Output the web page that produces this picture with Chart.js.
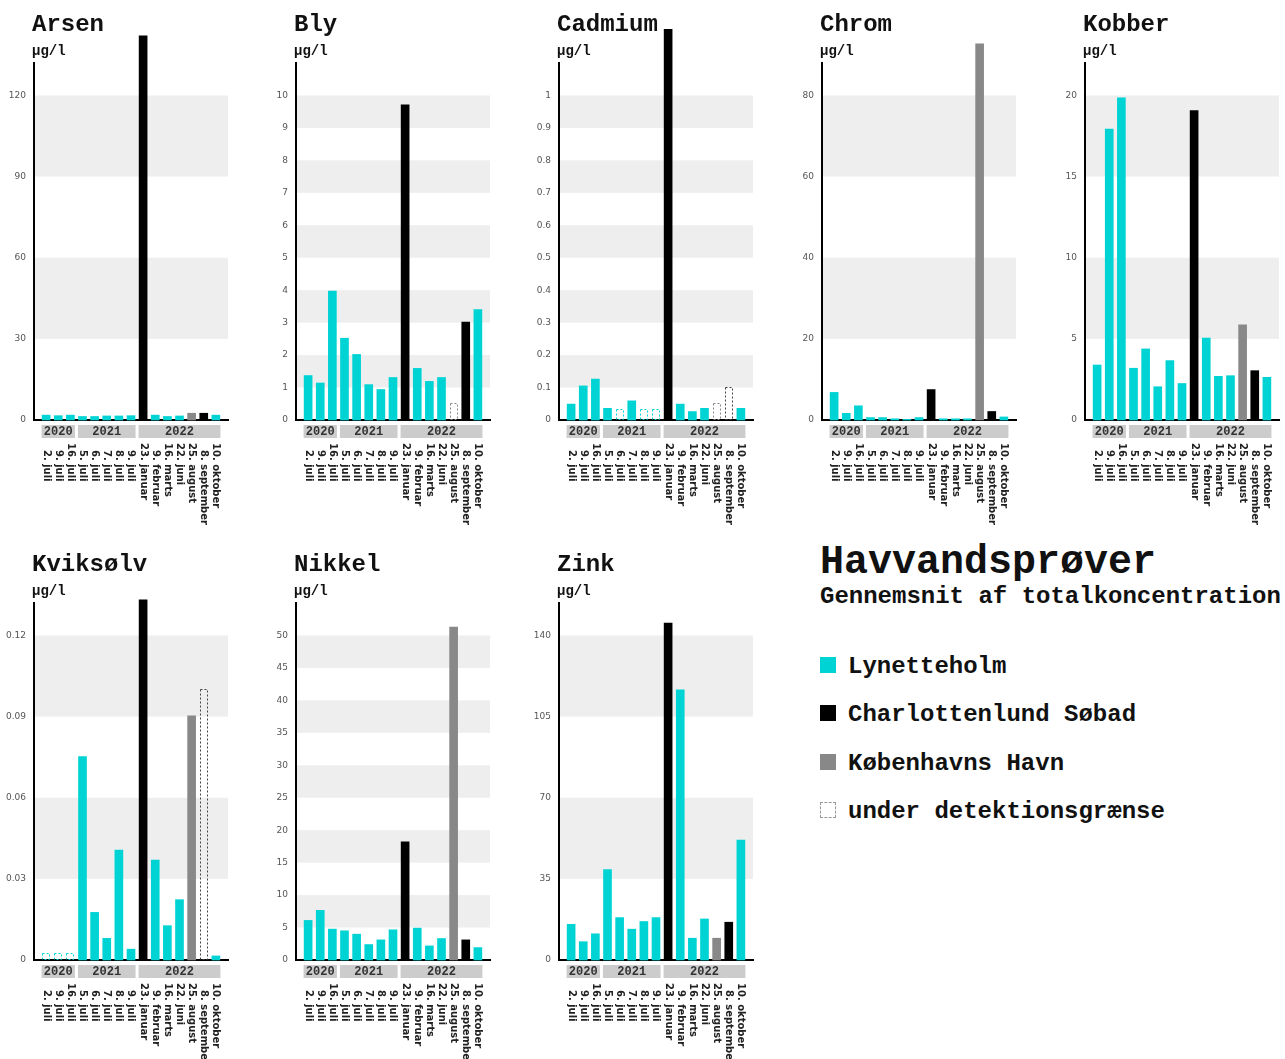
<!DOCTYPE html>
<html>
<head>
<meta charset="utf-8">
<script src="https://cdn.jsdelivr.net/npm/chart.js@4.4.1/dist/chart.umd.min.js"></script>
<style>
  body { margin: 0; background: #fff; width: 1285px; height: 1059px; overflow: hidden; position: relative; }
  canvas { position: absolute; }
  .mono { position: absolute; font-family: "Liberation Mono", "DejaVu Sans Mono", monospace; font-weight: bold; color: #111; white-space: nowrap; }
  .sq { position: absolute; left: 820px; width: 16px; height: 16px; box-sizing: border-box; }
</style>
</head>
<body>

<div class="mono" style="left:820px; top:540px; font-size:40px; line-height:46px;">Havvandsprøver</div>
<div class="mono" style="left:820px; top:583px; font-size:24px; line-height:28px;">Gennemsnit af totalkoncentration</div>

<div class="sq" style="top:657px; background:#00d3d3;"></div>
<div class="mono" style="left:848px; top:653px; font-size:24px; line-height:28px;">Lynetteholm</div>
<div class="sq" style="top:705px; background:#000;"></div>
<div class="mono" style="left:848px; top:701px; font-size:24px; line-height:28px;">Charlottenlund Søbad</div>
<div class="sq" style="top:754px; background:#888;"></div>
<div class="mono" style="left:848px; top:750px; font-size:24px; line-height:28px;">Københavns Havn</div>
<div class="sq" style="top:802px; border:1px dashed #999;"></div>
<div class="mono" style="left:848px; top:798px; font-size:24px; line-height:28px;">under detektionsgrænse</div>

<script>
// ─── DATA ─────────────────────────────────────────────────────────────────────
const dates = ['2. juli', '9. juli', '16. juli', '5. juli', '6. juli', '7. juli', '8. juli', '9. juli',
               '23. januar', '9. februar', '16. marts', '22. juni', '25. august', '8. september', '10. oktober'];
const years = ['2020', '2021', '2022'];
const yearOfDate = [0, 0, 0, 1, 1, 1, 1, 1, 2, 2, 2, 2, 2, 2, 2];
// L = Lynetteholm, C = Charlottenlund Søbad, K = Københavns Havn
const siteOfDate = ['L', 'L', 'L', 'L', 'L', 'L', 'L', 'L', 'C', 'L', 'L', 'L', 'K', 'C', 'L'];

const arsen     = [1.8, 1.6, 1.8, 1.3, 1.3, 1.5, 1.5, 1.6, 142, 1.8, 1.3, 1.5, 2.5, 2.5, 1.8];
const bly       = [1.37, 1.14, 3.97, 2.52, 2.02, 1.09, 0.94, 1.31, 9.71, 1.59, 1.19, 1.31, 0.52, 3.02, 3.40];
const cadmium   = [0.049, 0.105, 0.126, 0.036, 0.033, 0.059, 0.033, 0.033, 1.204, 0.049, 0.026, 0.036, 0.052, 0.102, 0.036];
const chrom     = [6.8, 1.65, 3.5, 0.6, 0.6, 0.3, 0.15, 0.6, 7.5, 0.3, 0.3, 0.3, 92.7, 2.1, 0.75];
const kobber    = [3.39, 17.93, 19.86, 3.19, 4.38, 2.05, 3.66, 2.25, 19.07, 5.05, 2.69, 2.73, 5.87, 3.04, 2.63];
const kviksoelv = [0.0025, 0.0025, 0.0025, 0.0752, 0.0176, 0.008, 0.0406, 0.004, 0.1332, 0.0369, 0.0127, 0.0223, 0.0903, 0.1002, 0.0015];
const nikkel    = [6.1, 7.65, 4.76, 4.5, 3.98, 2.38, 3.1, 4.65, 18.2, 4.91, 2.17, 3.31, 51.3, 3.1, 1.91];
const zink      = [15.4, 7.9, 11.3, 39.0, 18.3, 13.3, 16.6, 18.3, 145.3, 116.5, 9.4, 17.7, 9.4, 16.3, 51.7];

// indexes under detektionsgrænse
const blyBelow       = [12];
const cadmiumBelow   = [4, 6, 7, 12, 13];
const kviksoelvBelow = [0, 1, 2, 13];

const metalNames = ['Arsen', 'Bly', 'Cadmium', 'Chrom', 'Kobber', 'Kviksølv', 'Nikkel', 'Zink'];
const metalValues = [arsen, bly, cadmium, chrom, kobber, kviksoelv, nikkel, zink];
const metalBelow = [[], blyBelow, cadmiumBelow, [], [], kviksoelvBelow, [], []];
const tickStep = [30, 1, 0.1, 20, 5, 0.03, 5, 35];
const tickTop  = [120, 10, 1, 80, 20, 0.12, 50, 140];

// ─── STYLE ────────────────────────────────────────────────────────────────────
const SITE_COLOR = { L: '#00d3d3', C: '#000000', K: '#888888' };
const BAND = '#eeeeee';
const MONO = '"Liberation Mono", "DejaVu Sans Mono", monospace';
const PANEL_W = 262, PANEL_X = [0, 262, 525, 788, 1051];

// ─── PLUGIN: bands, dotted bars, titles, year boxes, date labels ─────────────
const panelPlugin = {
    id: 'panel',
    beforeDraw(chart) {
        const { ctx, chartArea: a, scales: { y } } = chart;
        const t = y.ticks;
        ctx.save();
        ctx.fillStyle = BAND;
        for (let i = 1; i + 1 < t.length; i += 2) {
            const y0 = y.getPixelForValue(t[i].value);
            const y1 = y.getPixelForValue(t[i + 1].value);
            ctx.fillRect(a.left, y1, a.right - a.left, y0 - y1);
        }
        ctx.restore();
    },
    afterDatasetsDraw(chart, args, opts) {
        const { ctx } = chart;
        const meta = chart.getDatasetMeta(0);
        ctx.save();
        ctx.lineWidth = 1;
        ctx.setLineDash([2, 2]);
        opts.below.forEach(i => {
            const b = meta.data[i].getProps(['x', 'y', 'base', 'width'], true);
            ctx.strokeStyle = siteOfDate[i] === 'C' ? '#444' : SITE_COLOR[siteOfDate[i]];
            ctx.strokeRect(Math.round(b.x - b.width / 2) + 0.5, Math.round(b.y) + 0.5,
                           Math.round(b.width) - 1, Math.round(b.base - b.y) - 1);
        });
        ctx.restore();
    },
    afterDraw(chart, args, opts) {
        const { ctx, chartArea: a, scales: { x } } = chart;
        ctx.save();
        // title + unit
        ctx.fillStyle = '#111';
        ctx.textAlign = 'left';
        ctx.textBaseline = 'middle';
        ctx.font = 'bold 24px ' + MONO;
        ctx.fillText(opts.title, a.left - 2, 25);
        ctx.font = 'bold 14px ' + MONO;
        ctx.fillText('µg/l', a.left - 2, 51);

        // year boxes
        years.forEach((yr, k) => {
            const idx = yearOfDate.map((v, i) => v === k ? i : -1).filter(i => i >= 0);
            const x0 = x.getPixelForValue(idx[0] - 0.5) + 1.5;
            const x1 = x.getPixelForValue(idx[idx.length - 1] + 0.5) - 1.5;
            ctx.fillStyle = '#cccccc';
            ctx.fillRect(x0, a.bottom + 5, x1 - x0, 13);
            ctx.fillStyle = '#333';
            ctx.textAlign = 'center';
            ctx.font = 'bold 12px ' + MONO;
            ctx.fillText(yr, (x0 + x1) / 2, a.bottom + 12);
        });

        // date labels, rotated clockwise, day numbers aligned on the dot
        ctx.font = 'bold 10px "DejaVu Sans", sans-serif';
        ctx.fillStyle = '#222';
        ctx.textAlign = 'left';
        const digit = ctx.measureText('0').width;
        dates.forEach((d, i) => {
            const off = /^\d\./.test(d) ? digit : 0;
            ctx.save();
            ctx.translate(x.getPixelForValue(i), a.bottom + 23 + off);
            ctx.rotate(Math.PI / 2);
            ctx.fillText(d, 0, 0);
            ctx.restore();
        });
        ctx.restore();
    }
};

// ─── BUILD PANELS ─────────────────────────────────────────────────────────────
function buildPanel(m) {
    const row = m < 5 ? 0 : 1;
    const col = m < 5 ? m : m - 5;
    const H = row === 0 ? 535 : 519;
    const canvas = document.createElement('canvas');
    canvas.width = PANEL_W;
    canvas.height = H;
    canvas.style.left = PANEL_X[col] + 'px';
    canvas.style.top = (row * 540) + 'px';
    canvas.style.width = PANEL_W + 'px';
    canvas.style.height = H + 'px';
    document.body.appendChild(canvas);

    const values = metalValues[m];
    const below = metalBelow[m];
    const top = tickTop[m];

    new Chart(canvas, {
        type: 'bar',
        data: {
            datasets: [{
                data: values.map((v, i) => ({ x: i, y: v })),
                backgroundColor: c => below.includes(c.dataIndex) ? 'rgba(0,0,0,0)' : SITE_COLOR[siteOfDate[c.dataIndex]],
                borderWidth: 0,
                barThickness: 8,
                clip: false
            }]
        },
        options: {
            responsive: false,
            animation: false,
            events: [],
            layout: { padding: { top: 63, bottom: H - 420, left: 0, right: PANEL_W - 228 } },
            plugins: {
                legend: { display: false },
                tooltip: { enabled: false },
                panel: { title: metalNames[m], below }
            },
            scales: {
                x: {
                    type: 'linear',
                    min: -1,
                    max: 15,
                    offset: false,
                    grid: { display: false, offset: false, drawTicks: false },
                    ticks: { display: false },
                    border: { display: true, color: '#000', width: 2 },
                    afterFit: s => { s.height = 0; }
                },
                y: {
                    min: 0,
                    max: top * 1.1,
                    grid: { display: false, drawTicks: false },
                    border: { display: true, color: '#000', width: 2 },
                    ticks: {
                        stepSize: tickStep[m],
                        includeBounds: false,
                        padding: 8,
                        color: '#555',
                        font: { family: '"DejaVu Sans", sans-serif', size: 9 },
                        callback: v => Number(v.toFixed(4)).toString()
                    },
                    afterBuildTicks: s => { s.ticks = s.ticks.filter(t => t.value <= top * 1.0001); },
                    afterFit: s => { s.width = 34; }
                }
            }
        },
        plugins: [panelPlugin]
    });
}

metalNames.forEach((n, m) => buildPanel(m));
</script>
</body>
</html>
